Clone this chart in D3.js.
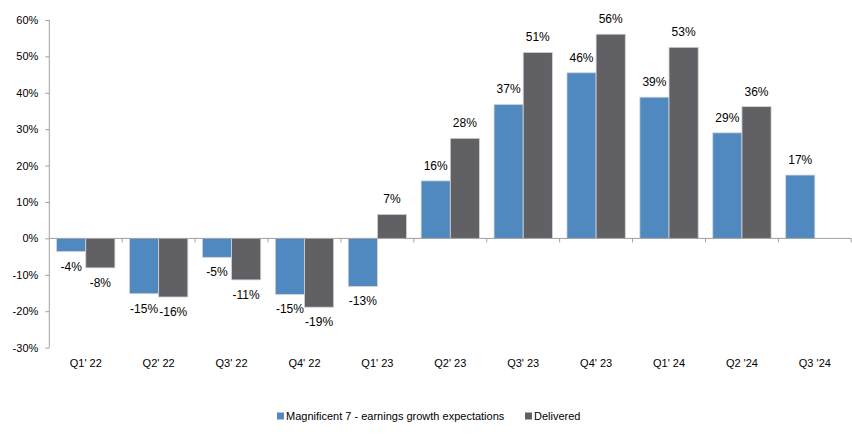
<!DOCTYPE html>
<html>
<head>
<meta charset="utf-8">
<script src="https://cdn.jsdelivr.net/npm/d3@7"></script>
<style>
  body { margin: 0; background: #fff; }
  text { font-family: "Liberation Sans", Arial, sans-serif; fill: #000; }
</style>
</head>
<body>
<div id="chart"></div>
<script>
// Chart data (percent)
var categories = ["Q1' 22", "Q2' 22", "Q3' 22", "Q4' 22", "Q1' 23", "Q2' 23",
                  "Q3' 23", "Q4' 23", "Q1' 24", "Q2 '24", "Q3 '24"];
var expectations = [-3.6, -15.2, -5.2, -15.4, -13.2, 15.8, 36.8, 45.5, 38.8, 29.0, 17.4];
var delivered = [-8.1, -16.1, -11.4, -18.9, 6.6, 27.5, 51.1, 56.1, 52.5, 36.2, null];
var seriesNames = ["Magnificent 7 - earnings growth expectations", "Delivered"];
var yTicks = [-30, -20, -10, 0, 10, 20, 30, 40, 50, 60];

var width = 852;
var height = 439;
var margin = { left: 49.3, right: 0.7, top: 20, bottom: 91.4 };
var colors = ["#4f89bf", "#616165"];

var svg = d3.select("#chart").append("svg")
    .attr("width", width)
    .attr("height", height);

var x0 = d3.scaleBand()
    .domain(categories)
    .range([margin.left, width - margin.right])
    .paddingInner(0.2)
    .paddingOuter(0.1);

var x1 = d3.scaleBand()
    .domain(seriesNames)
    .range([0, x0.bandwidth()]);

var y = d3.scaleLinear()
    .domain([-30, 60])
    .range([height - margin.bottom, margin.top]);

var rows = categories.map(function(c, i) {
    return { cat: c, values: [expectations[i], delivered[i]] };
});

// percent label with a plain hyphen for negatives
var pct = function(v) {
    var r = Math.round(Math.abs(v));
    return (v < 0 ? "-" : "") + r + "%";
};

//Bars
var group = svg.selectAll(".grp").data(rows)
    .enter().append("g")
    .attr("class", "grp")
    .attr("transform", function(d) { return "translate(" + x0(d.cat) + ",0)"; });

var bars = group.selectAll(".bar")
    .data(function(d) {
        return d.values.map(function(v, j) { return { name: seriesNames[j], value: v, j: j }; })
            .filter(function(e) { return e.value !== null; });
    })
    .enter();

bars.append("rect")
    .attr("class", "bar")
    .attr("x", function(d) { return x1(d.name); })
    .attr("width", x1.bandwidth())
    .attr("y", function(d) { return y(Math.max(0, d.value)); })
    .attr("height", function(d) { return Math.abs(y(d.value) - y(0)); })
    .attr("fill", function(d) { return colors[d.j]; })
    .attr("stroke", "#d4d4d4")
    .attr("stroke-width", 0.8);

bars.append("text")
    .attr("x", function(d) { return x1(d.name) + x1.bandwidth() / 2; })
    .attr("y", function(d) { return y(d.value) + (d.value >= 0 ? -15 : 15); })
    .attr("text-anchor", "middle")
    .attr("dominant-baseline", "central")
    .style("font-size", "12px")
    .text(function(d) { return pct(d.value); });

//Y axis
var yAxis = d3.axisLeft(y)
    .tickValues(yTicks)
    .tickSize(4)
    .tickPadding(7)
    .tickFormat(function(d) { return d + "%"; });

var gy = svg.append("g")
    .attr("transform", "translate(" + margin.left + ",0)")
    .call(yAxis);
gy.selectAll("path, line").attr("stroke", "#a0a0a0");
gy.select(".domain").attr("d", "M0," + y(-30) + "V" + y(60));
gy.selectAll("text").style("font-size", "11px").attr("fill", "#000");

//X axis line at zero with category boundary ticks
svg.append("line")
    .attr("x1", margin.left).attr("x2", width - margin.right)
    .attr("y1", y(0)).attr("y2", y(0))
    .attr("stroke", "#a0a0a0");

var step = x0.step();
var edges = categories.map(function(c) { return x0(c) - step * 0.1; });
edges.push(width - margin.right);
svg.selectAll(".xtick").data(edges.slice(1))
    .enter().append("line")
    .attr("class", "xtick")
    .attr("x1", function(d) { return d; }).attr("x2", function(d) { return d; })
    .attr("y1", y(0)).attr("y2", y(0) + 4)
    .attr("stroke", "#a0a0a0");

svg.selectAll(".xlab").data(categories)
    .enter().append("text")
    .attr("class", "xlab")
    .attr("x", function(d) { return x0(d) + x0.bandwidth() / 2; })
    .attr("y", 363)
    .attr("text-anchor", "middle")
    .attr("dominant-baseline", "central")
    .style("font-size", "11px")
    .text(function(d) { return d; });

//Legend
var legendX = [277, 525];
var legend = svg.selectAll(".legend").data(seriesNames)
    .enter().append("g")
    .attr("class", "legend")
    .attr("transform", function(d, i) { return "translate(" + legendX[i] + ",416)"; });

legend.append("rect")
    .attr("x", 0).attr("y", -3.5)
    .attr("width", 7).attr("height", 7)
    .attr("fill", function(d, i) { return colors[i]; });

legend.append("text")
    .attr("x", 9)
    .attr("y", 0)
    .attr("dominant-baseline", "central")
    .style("font-size", "11px")
    .text(function(d) { return d; });
</script>
</body>
</html>
